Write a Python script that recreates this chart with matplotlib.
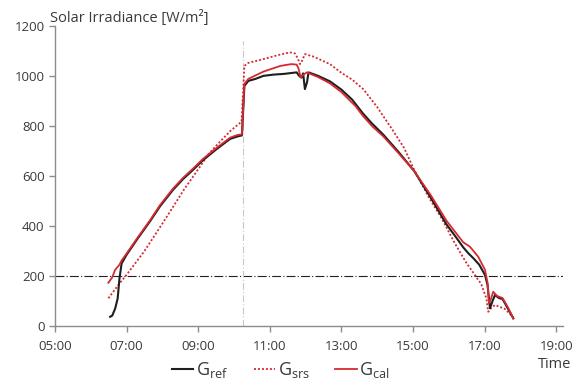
import matplotlib
matplotlib.use('Agg')
import matplotlib.pyplot as plt
import numpy as np

plt.rcParams['font.family'] = ['Open Sans', 'DejaVu Sans']

# time in decimal hours, irradiance in W/m2
t_ref = [6.54, 6.60, 6.68, 6.75, 6.80, 6.86, 7.00, 7.30, 7.65, 7.93, 8.30, 8.58, 8.86, 9.14,
         9.52, 9.89, 10.10, 10.22, 10.29, 10.40, 10.60, 10.82, 11.10, 11.40, 11.75, 11.82,
         11.88, 11.93, 11.98, 12.04, 12.08, 12.35, 12.68, 13.00, 13.30, 13.60, 13.85, 14.17,
         14.60, 15.03, 15.50, 15.94, 16.20, 16.40, 16.55, 16.68, 16.85, 17.01, 17.08, 17.15,
         17.22, 17.29, 17.40, 17.50, 17.65, 17.80]
g_ref = [37, 42, 70, 110, 190, 250, 285, 348, 418, 478, 545, 588, 625, 664,
         708, 748, 758, 762, 960, 980, 988, 1000, 1005, 1008, 1014, 1000,
         993, 1010, 947, 975, 1014, 1000, 978, 945, 905, 850, 810, 765,
         695, 620, 512, 405, 355, 315, 290, 272, 245, 204, 165, 71,
         100, 124, 112, 108, 70, 31]

t_srs = [6.49, 6.80, 7.00, 7.50, 8.00, 8.30, 8.60, 9.05, 9.30, 9.61, 9.90, 10.21, 10.29,
         10.40, 10.82, 11.20, 11.56, 11.70, 11.78, 11.84, 11.90, 11.98, 12.20, 12.68, 13.00,
         13.30, 13.61, 14.00, 14.40, 14.75, 15.03, 15.43, 15.80, 16.17, 16.50, 16.73, 16.82,
         16.90, 17.05, 17.10, 17.20, 17.29, 17.45, 17.57, 17.80]
g_srs = [111, 170, 205, 300, 410, 477, 545, 637, 690, 737, 780, 817, 1040,
         1052, 1067, 1082, 1094, 1090, 1070, 1047, 1060, 1087, 1078, 1047, 1012,
         985, 947, 875, 790, 712, 625, 517, 430, 330, 250, 204, 184,
         170, 110, 57, 75, 84, 75, 68, 35]

t_cal = [6.49, 6.60, 6.68, 6.80, 6.86, 7.00, 7.30, 7.65, 7.93, 8.30, 8.58, 8.86, 9.14,
         9.52, 9.89, 10.10, 10.22, 10.29, 10.40, 10.82, 11.30, 11.60, 11.75, 11.80, 11.86,
         11.90, 12.03, 12.35, 12.68, 13.00, 13.40, 13.60, 13.85, 14.17, 14.60, 15.03, 15.50,
         15.94, 16.20, 16.40, 16.59, 16.70, 16.82, 16.90, 17.01, 17.08, 17.12, 17.18, 17.24,
         17.35, 17.50, 17.65, 17.80]
g_cal = [173, 195, 225, 245, 262, 290, 352, 422, 483, 550, 593, 630, 669,
         713, 753, 764, 766, 968, 988, 1017, 1040, 1047, 1045, 1030, 994,
         1000, 1014, 995, 970, 935, 878, 840, 800, 758, 690, 620, 522,
         420, 372, 335, 317, 298, 277, 255, 225, 175, 91, 110, 137,
         120, 112, 75, 30]

tick_pos = [5, 7, 9, 11, 13, 15, 17, 19]
tick_labels = ['05:00', '07:00', '09:00', '11:00', '13:00', '15:00', '17:00', '19:00']
y_ticks = [0, 200, 400, 600, 800, 1000, 1200]

red = '#d42a30'
grey = '#8c8c8c'
txt = '#3a3a3a'

fig = plt.figure(figsize=(5.73, 3.80), dpi=100)
ax = fig.add_axes([0.096, 0.142, 0.886, 0.790])

ax.axhline(200, color='#222222', lw=0.8, ls=(0, (8, 2, 1, 2)), zorder=1)
ax.plot([10.25, 10.25], [0, 1140], color='#c8c8c8', lw=0.8, ls=(0, (6, 2, 1, 2)), zorder=1)

ax.plot(t_ref, g_ref, color='#1e1e1e', lw=1.5, label=r'$\mathregular{G_{ref}}$', zorder=3)
ax.plot(t_srs, g_srs, color=red, lw=1.3, ls=(0, (1.1, 1.1)), label=r'$\mathregular{G_{srs}}$', zorder=2)
ax.plot(t_cal, g_cal, color=red, lw=1.3, label=r'$\mathregular{G_{cal}}$', zorder=4)

ax.set_xlim(5, 19.18)
ax.set_ylim(0, 1200)
ax.set_xticks(tick_pos)
ax.set_xticklabels(tick_labels)
ax.set_yticks(y_ticks)

for s in ['top', 'right']:
    ax.spines[s].set_visible(False)
for s in ['left', 'bottom']:
    ax.spines[s].set_color(grey)
    ax.spines[s].set_linewidth(1.0)
ax.tick_params(axis='both', colors=grey, length=4, width=1.0, labelsize=9.5, labelcolor=txt)
ax.tick_params(axis='x', pad=6)

fig.text(50 / 573, 1 - 18 / 380, 'Solar Irradiance [W/m²]', fontsize=10.5, color=txt,
         ha='left', va='center')
fig.text(555 / 573, 1 - 365 / 380, 'Time', fontsize=10.5, color=txt, ha='center', va='center')

leg = fig.legend(loc='center', bbox_to_anchor=(0.49, 0.025), ncol=3, frameon=False,
                 handlelength=1.2, handletextpad=0.15, columnspacing=1.4, fontsize=13)
for t in leg.get_texts():
    t.set_color(txt)

fig.savefig('out.png', dpi=100)
